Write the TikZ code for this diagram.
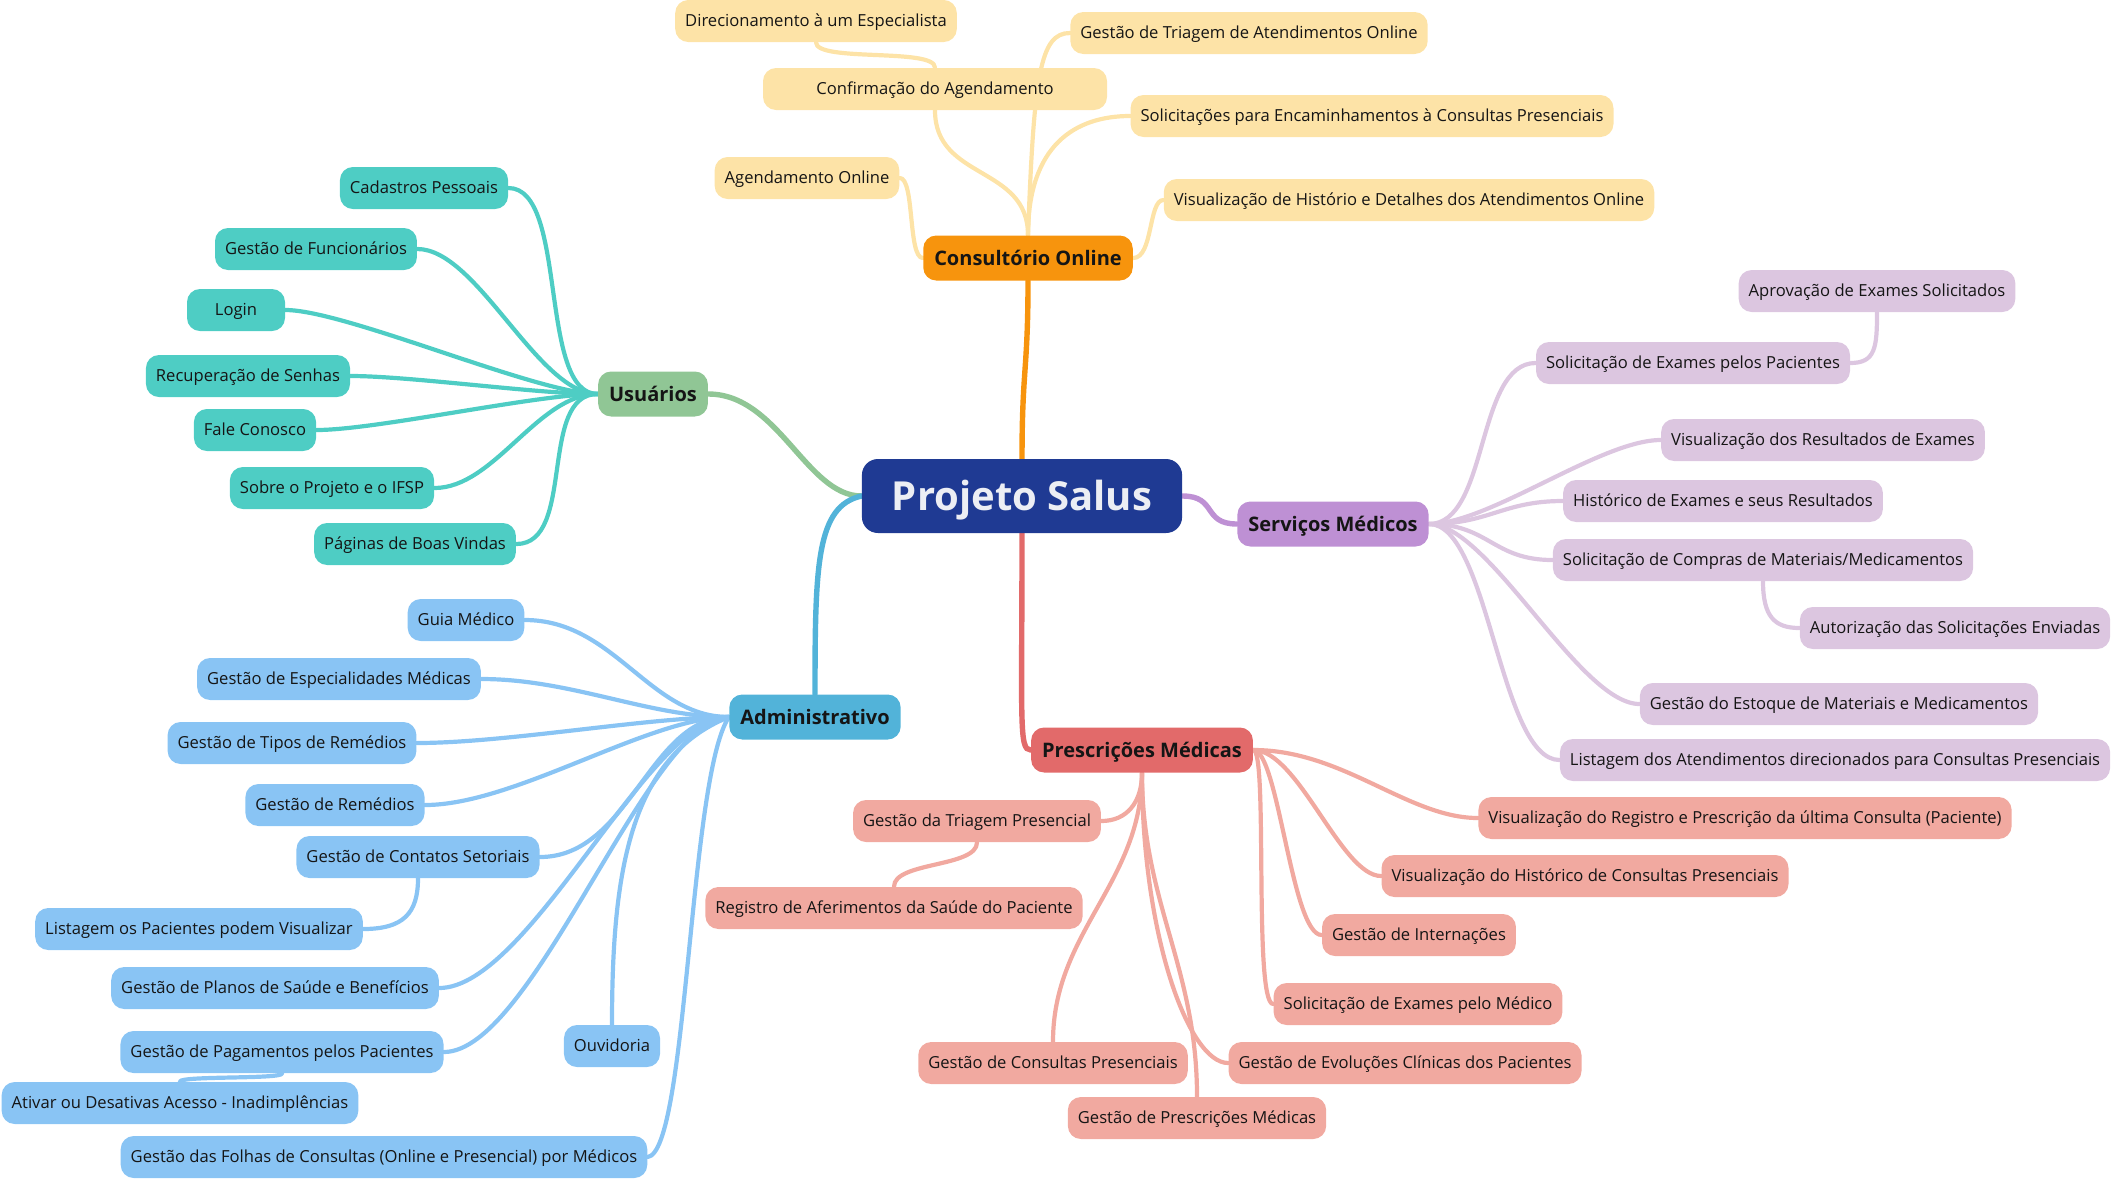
\documentclass[tikz,border=0pt]{standalone}
\usepackage{fontspec}
\setmainfont{Open Sans}
\usetikzlibrary{backgrounds}
\definecolor{rootc}{HTML}{1F3A93}
\definecolor{consc}{HTML}{F7940D}
\definecolor{usuc}{HTML}{90C695}
\definecolor{servc}{HTML}{BE90D4}
\definecolor{admc}{HTML}{52B3D9}
\definecolor{prescc}{HTML}{E26A6A}
\definecolor{consl}{HTML}{FDE3A7}
\definecolor{usul}{HTML}{4ECDC4}
\definecolor{servl}{HTML}{DCC6E0}
\definecolor{adml}{HTML}{89C4F4}
\definecolor{prescl}{HTML}{F1A9A0}
\definecolor{txt}{HTML}{151515}
\definecolor{roottxt}{HTML}{ECEEF4}
\newcommand{\lffont}{\fontsize{8.3}{10}\selectfont}
\newcommand{\mnfont}{\fontsize{10}{12}\selectfont\bfseries}
\newcommand{\rtfont}{\fontsize{20}{24}\selectfont\bfseries}
\tikzset{
  leaf/.style={rounded corners=6.5pt, minimum height=21pt, inner xsep=5pt, inner ysep=0pt, text height=5.9pt, text depth=0pt, font=\lffont, text=txt},
  mainnode/.style={rounded corners=6.5pt, minimum height=22.5pt, inner xsep=5.5pt, inner ysep=0pt, text height=7.1pt, text depth=0pt, font=\mnfont, text=txt},
  rootnode/.style={rounded corners=8pt, fill=rootc, minimum height=37pt, inner xsep=15pt, inner ysep=0pt, text height=14.3pt, text depth=0pt, font=\rtfont, text=roottxt},
  cl/.style={leaf, fill=consl}, ul/.style={leaf, fill=usul}, sl/.style={leaf, fill=servl},
  al/.style={leaf, fill=adml}, pl/.style={leaf, fill=prescl},
  conn/.style={line width=2.1pt, line cap=round},
  mconn/.style={line width=2.7pt, line cap=round},
}
\begin{document}
\begin{tikzpicture}[x=0.5pt,y=-0.5pt]
\useasboundingbox (0,0) rectangle (2112,1179);
% root and main
\node[rootnode] (root) at (1022,496) {Projeto Salus};
\node[mainnode, fill=consc] (cons) at (1028,258) {Consultório Online};
\node[mainnode, fill=usuc] (usu) at (653,394) {Usuários};
\node[mainnode, fill=servc] (serv) at (1333,524) {Serviços Médicos};
\node[mainnode, fill=admc] (adm) at (815,717) {Administrativo};
\node[mainnode, fill=prescc] (presc) at (1142,750) {Prescrições Médicas};
% consultorio leaves
\node[cl] (dir) at (816,21) {Direcionamento à um Especialista};
\node[cl, minimum width=172pt] (conf) at (935,89) {Confirmação do Agendamento};
\node[cl] (triag) at (1249,33) {Gestão de Triagem de Atendimentos Online};
\node[cl] (solenc) at (1372,116) {Solicitações para Encaminhamentos à Consultas Presenciais};
\node[cl] (agon) at (807,178) {Agendamento Online};
\node[cl] (vhist) at (1409,200) {Visualização de Histório e Detalhes dos Atendimentos Online};
% usuarios leaves
\node[ul] (cad) at (424,188) {Cadastros Pessoais};
\node[ul] (func) at (316,249) {Gestão de Funcionários};
\node[ul, minimum width=49pt] (login) at (236,310) {Login};
\node[ul] (rec) at (248,376) {Recuperação de Senhas};
\node[ul] (fale) at (255,430) {Fale Conosco};
\node[ul] (sobre) at (332,488) {Sobre o Projeto e o IFSP};
\node[ul] (boas) at (415,544) {Páginas de Boas Vindas};
% servicos leaves
\node[sl] (aprov) at (1877,291) {Aprovação de Exames Solicitados};
\node[sl] (solpac) at (1693,363) {Solicitação de Exames pelos Pacientes};
\node[sl] (vres) at (1823,440) {Visualização dos Resultados de Exames};
\node[sl] (hex) at (1723,501) {Histórico de Exames e seus Resultados};
\node[sl] (solcomp) at (1763,560) {Solicitação de Compras de Materiais/Medicamentos};
\node[sl] (autor) at (1955,628) {Autorização das Solicitações Enviadas};
\node[sl] (estoq) at (1839,704) {Gestão do Estoque de Materiais e Medicamentos};
\node[sl] (listat) at (1835,760) {Listagem dos Atendimentos direcionados para Consultas Presenciais};
% administrativo leaves
\node[al] (guia) at (466,620) {Guia Médico};
\node[al] (espec) at (339,679) {Gestão de Especialidades Médicas};
\node[al] (tipos) at (292,743) {Gestão de Tipos de Remédios};
\node[al] (rem) at (335,805) {Gestão de Remédios};
\node[al] (cont) at (418,857) {Gestão de Contatos Setoriais};
\node[al] (listp) at (199,929) {Listagem os Pacientes podem Visualizar};
\node[al] (planos) at (275,988) {Gestão de Planos de Saúde e Benefícios};
\node[al] (pagam) at (282,1052) {Gestão de Pagamentos pelos Pacientes};
\node[al] (ouv) at (612,1046) {Ouvidoria};
\node[al] (ativ) at (180,1103) {Ativar ou Desativas Acesso - Inadimplências};
\node[al] (folhas) at (384,1157) {Gestão das Folhas de Consultas (Online e Presencial) por Médicos};
% prescricoes leaves
\node[pl] (triap) at (977,821) {Gestão da Triagem Presencial};
\node[pl] (regaf) at (894,908) {Registro de Aferimentos da Saúde do Paciente};
\node[pl] (vreg) at (1745,818) {Visualização do Registro e Prescrição da última Consulta (Paciente)};
\node[pl] (vhc) at (1585,876) {Visualização do Histórico de Consultas Presenciais};
\node[pl] (intern) at (1419,935) {Gestão de Internações};
\node[pl] (solex) at (1418,1004) {Solicitação de Exames pelo Médico};
\node[pl] (consp) at (1053,1063) {Gestão de Consultas Presenciais};
\node[pl] (evol) at (1405,1063) {Gestão de Evoluções Clínicas dos Pacientes};
\node[pl] (gpresc) at (1197,1118) {Gestão de Prescrições Médicas};

\begin{pgfonlayer}{background}
% main branches
\draw[mconn, consc] (root.north) .. controls +(0,-90) and +(0,90) .. (cons.south);
\draw[mconn, usuc] (root.west) .. controls +(-55,0) and +(70,0) .. (usu.east);
\draw[mconn, admc] (root.west) .. controls +(-45,10) and +(0,-130) .. (adm.north);
\draw[mconn, servc] (root.east) .. controls +(35,0) and +(-35,0) .. (serv.west);
\draw[mconn, prescc] (root.south) .. controls +(0,190) and +(-12,0) .. (presc.west);
% consultorio
\begin{scope}[conn, consl]
\draw (cons.west) .. controls +(-15,0) and +(15,0) .. (agon.east);
\draw (cons.north) .. controls +(0,-70) and +(0,70) .. (conf.south);
\draw (cons.north) .. controls +(6,-160) and +(-30,0) .. (triag.west);
\draw (cons.north) .. controls +(0,-90) and +(-55,0) .. (solenc.west);
\draw (cons.east) .. controls +(20,0) and +(-15,0) .. (vhist.west);
\draw (conf.north) .. controls +(0,-20) and +(0,20) .. (dir.south);
\end{scope}
% usuarios
\begin{scope}[conn, usul]
\foreach \n in {cad,func,login,rec,fale,sobre,boas}
  \draw (usu.west) .. controls +(-60,0) and +(60,0) .. (\n.east);
\end{scope}
% servicos
\begin{scope}[conn, servl]
\foreach \n in {solpac,vres,hex,solcomp,estoq,listat}
  \draw (serv.east) .. controls +(60,0) and +(-60,0) .. (\n.west);
\draw (solpac.east) .. controls +(25,0) and +(0,35) .. (aprov.south);
\draw (solcomp.south) .. controls +(0,35) and +(-25,0) .. (autor.west);
\end{scope}
% administrativo
\begin{scope}[conn, adml]
\foreach \n in {guia,espec,tipos,rem,cont,planos,pagam}
  \draw (adm.west) .. controls +(-80,0) and +(90,0) .. (\n.east);
\draw (adm.west) .. controls +(-100,40) and +(0,-150) .. (ouv.north);
\draw (adm.west) .. controls +(-40,60) and +(40,-5) .. (folhas.east);
\draw (cont.south) .. controls +(0,35) and +(40,0) .. (listp.east);
\draw (pagam.south) .. controls +(0,6) and +(0,-6) .. (ativ.north);
\end{scope}
% prescricoes
\begin{scope}[conn, prescl]
\draw (presc.east) .. controls +(90,0) and +(-70,0) .. (vreg.west);
\draw (presc.east) .. controls +(45,0) and +(-40,0) .. (vhc.west);
\draw (presc.east) .. controls +(25,0) and +(-30,0) .. (intern.west);
\draw (presc.east) .. controls +(15,0) and +(-20,0) .. (solex.west);
\draw (presc.south) .. controls +(0,30) and +(25,0) .. (triap.east);
\draw (presc.south) .. controls +(0,110) and +(0,-110) .. (consp.north);
\draw (presc.south) .. controls +(0,130) and +(0,-130) .. (gpresc.north);
\draw (presc.south) .. controls +(0,160) and +(-40,0) .. (evol.west);
\draw (triap.south) .. controls +(0,25) and +(0,-25) .. (regaf.north);
\end{scope}
\end{pgfonlayer}
\end{tikzpicture}
\end{document}
